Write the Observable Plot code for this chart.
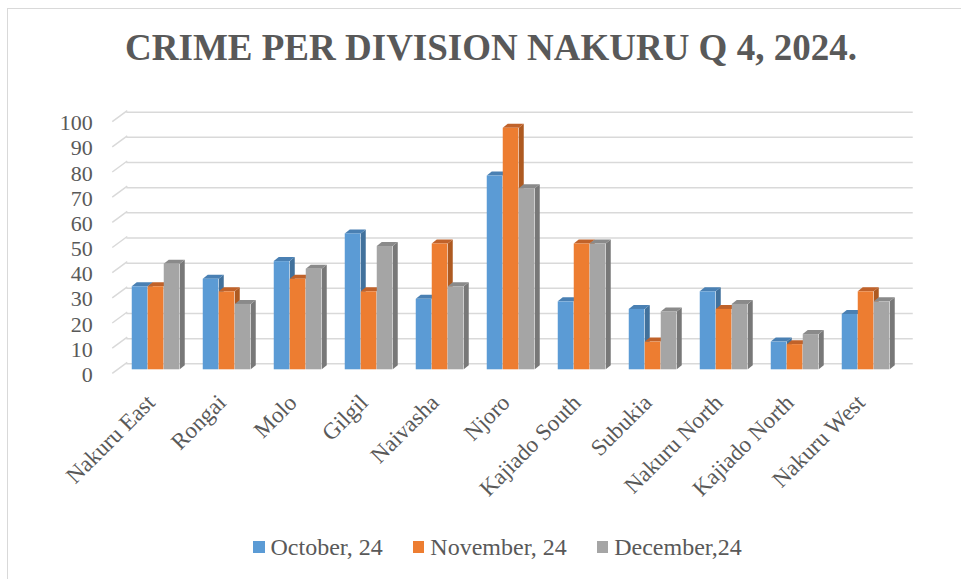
<!DOCTYPE html>
<html>
<head>
<meta charset="utf-8">
<script src="https://cdn.jsdelivr.net/npm/d3@7"></script>
<script src="https://cdn.jsdelivr.net/npm/@observablehq/plot@0.6"></script>
<style>
  html, body { margin: 0; padding: 0; background: #fff; overflow: hidden; }
  #wrap { position: relative; width: 961px; height: 579px; font-family: 'Liberation Serif'; color: #595959; }
  #frame { position: absolute; left: 7px; top: 8px; width: 980px; height: 600px; border: 1px solid #d9d9d9; box-sizing: border-box; }
  #title { position: absolute; left: 0; width: 982px; top: 29px; text-align: center; font-family: 'Liberation Serif'; font-size: 37px; line-height: 1; font-weight: bold; color: #595959; white-space: nowrap; }
  #chart { position: absolute; left: 0; top: 0; }
  #chart svg text { font-family: 'Liberation Serif'; }
  #legend { position: absolute; left: 253px; top: 533px; display: flex; align-items: center; font-family: 'Liberation Serif'; font-size: 24px; line-height: 28px; color: #595959; white-space: nowrap; }
  .item { display: flex; align-items: center; margin-right: 30px; }
  .sw { width: 11.5px; height: 11.5px; margin-right: 6px; }
</style>
</head>
<body>
<div id="wrap">
  <div id="frame"></div>
  <div id="chart"></div>
  <div id="title">CRIME PER DIVISION NAKURU Q 4, 2024.</div>
  <div id="legend"></div>
</div>
<script>
const categories = ["Nakuru East", "Rongai", "Molo", "Gilgil", "Naivasha", "Njoro", "Kajiado South", "Subukia", "Nakuru North", "Kajiado North", "Nakuru West"];
const october = [33, 36, 43, 54, 28, 77, 27, 24, 31, 11, 22];
const november = [33, 31, 36, 31, 50, 96, 50, 11, 24, 10, 31];
const december = [42, 26, 40, 49, 33, 72, 50, 23, 26, 14, 27];
const seriesNames = ["October, 24", "November, 24", "December,24"];
const yTicks = [0, 10, 20, 30, 40, 50, 60, 70, 80, 90, 100];

const seriesValues = [october, november, december];
const frontColors = ["#5b9bd5", "#ed7d31", "#a5a5a5"];
const sideColors = ["#41719c", "#ae5a21", "#787878"];
const topColors = ["#4a80b3", "#c0622a", "#8a8a8a"];

const W = 961, H = 520;
const mL = 117.25, mR = 57.25, mT = 117.7, mB = H - 369.3;
const bandW = (W - mL - mR) / categories.length;
const barW = 16, groupOff = 11.75;
const depthX = 5, depthY = 4;

const tables = seriesValues.map((vals, i) =>
  categories.map((c, j) => ({category: c, value: vals[j], series: seriesNames[i]}))
);

function stubs(index, scales, values, dimensions) {
  const g = d3.create("svg:g");
  const x0 = dimensions.marginLeft;
  for (const t of yTicks) {
    const y = scales.y(t);
    g.append("line")
      .attr("x1", x0 - 5).attr("y1", y + 4)
      .attr("x2", x0 + 10).attr("y2", y - 7)
      .attr("stroke", "#d9d9d9").attr("stroke-width", 1.5);
  }
  return g.node();
}

function faces(i) {
  return function(index, scales, values, dimensions) {
    const g = d3.create("svg:g");
    for (const d of tables[i]) {
      const x0 = scales.x(d.category) + groupOff + barW * i;
      const x1 = x0 + barW;
      const yt = scales.y(d.value);
      const yb = scales.y(0);
      g.append("polygon")
        .attr("points", [[x1, yb], [x1, yt], [x1 + depthX, yt - depthY], [x1 + depthX, yb - depthY]].join(" "))
        .attr("fill", sideColors[i]);
      g.append("polygon")
        .attr("points", [[x0, yt], [x1, yt], [x1 + depthX, yt - depthY], [x0 + depthX, yt - depthY]].join(" "))
        .attr("fill", topColors[i]);
    }
    return g.node();
  };
}

const barMarks = [];
seriesValues.forEach((vals, i) => {
  const left = groupOff + barW * i;
  const right = bandW - left - barW;
  barMarks.push(faces(i));
  barMarks.push(Plot.barY(tables[i], {x: "category", y: "value", fill: frontColors[i], insetLeft: left, insetRight: right}));
});

const chart = Plot.plot({
  width: W,
  height: H,
  marginLeft: mL,
  marginRight: mR,
  marginTop: mT,
  marginBottom: mB,
  style: {fontFamily: "'Liberation Serif'", color: "#595959", background: "transparent"},
  x: {domain: categories, padding: 0, axis: null},
  y: {domain: [0, 100], axis: null},
  marks: [
    Plot.ruleY(yTicks, {dx: 9, dy: -6, stroke: "#d9d9d9", strokeWidth: 1.5}),
    stubs,
    Plot.axisY({ticks: yTicks, tickSize: 0, tickPadding: 25, dy: 5, fontSize: 22, fill: "#595959", label: null}),
    Plot.axisX({tickRotate: -45, tickSize: 0, tickPadding: 29, dx: -5, fontSize: 23, fill: "#595959", label: null}),
    ...barMarks
  ]
});
document.getElementById("chart").appendChild(chart);

const legend = document.getElementById("legend");
seriesNames.forEach((name, i) => {
  const item = document.createElement("div");
  item.className = "item";
  const sw = document.createElement("div");
  sw.className = "sw";
  sw.style.background = frontColors[i];
  const label = document.createElement("span");
  label.textContent = name;
  item.appendChild(sw);
  item.appendChild(label);
  legend.appendChild(item);
});
</script>
</body>
</html>
